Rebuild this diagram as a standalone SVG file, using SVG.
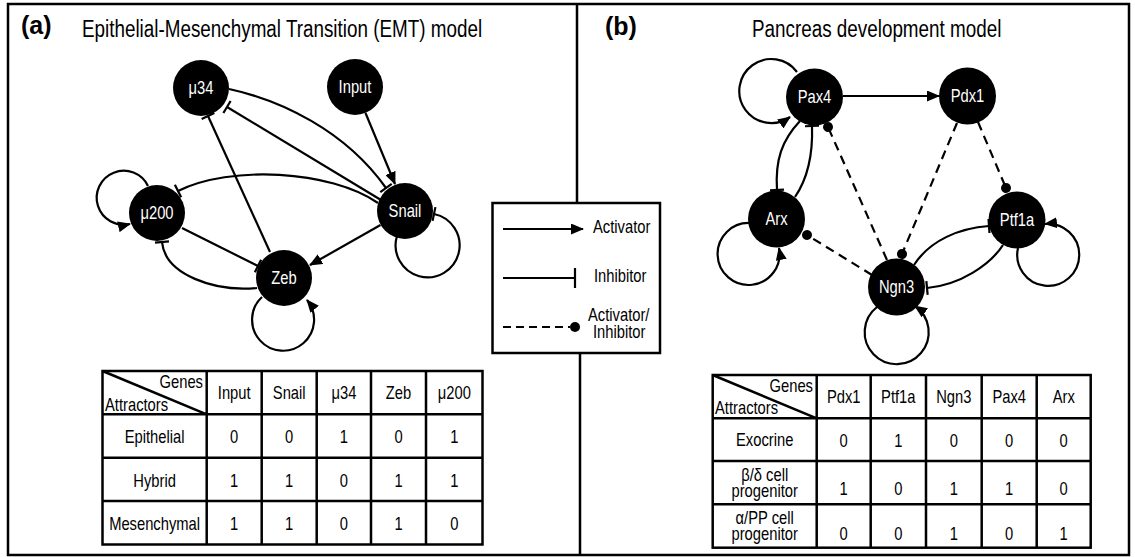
<svg xmlns="http://www.w3.org/2000/svg" width="1135" height="557" viewBox="0 0 1135 557">
<style>
.t{font-family:"Liberation Sans",Arial,sans-serif;fill:#000;font-size:18px}
.n{fill:#fff;text-anchor:middle}
.c{text-anchor:middle}
.r{text-anchor:end}
.h{font-size:23px}
.b{font-family:"Liberation Sans",Arial,sans-serif;font-weight:bold;font-size:25px}
.e{fill:none;stroke:#000;stroke-width:2.2}
.d{fill:none;stroke:#000;stroke-width:2.2;stroke-dasharray:9 6}
.g{fill:none;stroke:#000;stroke-width:2.5}
.act{marker-end:url(#arr)}
.inh{marker-end:url(#bar)}
.dot{marker-end:url(#dotm)}
</style>
<defs>
<marker id="arr" markerUnits="userSpaceOnUse" viewBox="0 0 13 11" refX="12" refY="5.5" markerWidth="13" markerHeight="11" orient="auto"><path d="M0,0 L13,5.5 L0,11 z" fill="#000"/></marker>
<marker id="bar" markerUnits="userSpaceOnUse" viewBox="-2 -8 4 16" refX="0" refY="0" markerWidth="4" markerHeight="16" orient="auto"><path d="M0,-7 V7" stroke="#000" stroke-width="2.2"/></marker>
<marker id="dotm" markerUnits="userSpaceOnUse" viewBox="-6 -6 12 12" refX="0" refY="0" markerWidth="12" markerHeight="12" orient="auto"><circle cx="0" cy="0" r="5" fill="#000"/></marker>
</defs>
<rect x="0" y="0" width="1135" height="557" fill="#fff"/>
<g id="frame">
<rect x="8" y="4" width="1121" height="551" class="g"/>
<path d="M577,4 L577,203 M580,353 L580,555" class="g"/>
</g>
<g id="titles">
<text class="b" x="21" y="34">(a)</text>
<text class="t h" transform="translate(82,37) scale(0.82,1)">Epithelial-Mesenchymal Transition (EMT) model</text>
<text class="b" x="605" y="35">(b)</text>
<text class="t h" transform="translate(752,37) scale(0.82,1)">Pancreas development model</text>
</g>
<g id="connectors">
<path class="e act" d="M365.5,113 L395,184"/>
<path class="e inh" d="M381,200 L227,107"/>
<path class="e inh" d="M229,89 C280,100 345,130 386,188"/>
<path class="e inh" d="M270,252 L208,116"/>
<path class="e inh" d="M378,203 C330,170 230,165 178,191"/>
<path class="e inh" d="M182,228 L258,266"/>
<path class="e inh" d="M257,288 C215,292 165,275 162,242"/>
<path class="e act" d="M380.5,225 L310,265"/>
<path class="e act" d="M148,186 A27,27 0 1 0 130,224"/>
<path class="e act" d="M262,297 A31,31 0 1 0 307,300"/>
<path class="e inh" d="M397,236 A32,32 0 1 0 434,214"/>
<path class="e act" d="M843,96 L939,96"/>
<path class="e act" d="M797,72 A32,32 0 1 0 790,117"/>
<path class="e inh" d="M800,121 C782,140 775,160 777,190"/>
<path class="e inh" d="M795,197 C808,178 813,155 812,126"/>
<path class="d dot" d="M887,260 L828,127"/>
<path class="d dot" d="M957,123 L902,254"/>
<path class="d dot" d="M978,122 L1006,188"/>
<path class="d dot" d="M872,275 L807,235"/>
<path class="e inh" d="M914,265 C930,240 960,228 989,226"/>
<path class="e inh" d="M1003,245 C990,265 960,285 927,288"/>
<path class="e act" d="M750,223 A31,31 0 1 0 779,248"/>
<path class="e act" d="M1018,248 A31,31 0 1 0 1045,224"/>
<path class="e act" d="M877,307 A32,32 0 1 0 915,306"/>
</g>
<g id="n-mu34"><circle cx="201" cy="88" r="28"/><text class="t n" transform="translate(201,94) scale(0.82,1)">μ34</text></g>
<g id="n-input"><circle cx="355" cy="87" r="28"/><text class="t n" transform="translate(355,93) scale(0.82,1)">Input</text></g>
<g id="n-snail"><circle cx="405" cy="211" r="28"/><text class="t n" transform="translate(405,217) scale(0.82,1)">Snail</text></g>
<g id="n-mu200"><circle cx="157" cy="213" r="28"/><text class="t n" transform="translate(157,219) scale(0.82,1)">μ200</text></g>
<g id="n-zeb"><circle cx="284" cy="278" r="28"/><text class="t n" transform="translate(284,284) scale(0.82,1)">Zeb</text></g>
<g id="n-pax4"><circle cx="814.5" cy="97" r="28.5"/><text class="t n" transform="translate(814.5,103) scale(0.82,1)">Pax4</text></g>
<g id="n-pdx1"><circle cx="967.5" cy="96" r="28.5"/><text class="t n" transform="translate(967.5,102) scale(0.82,1)">Pdx1</text></g>
<g id="n-arx"><circle cx="776.5" cy="219" r="28.5"/><text class="t n" transform="translate(776.5,225) scale(0.82,1)">Arx</text></g>
<g id="n-ptf1a"><circle cx="1017" cy="220" r="28.5"/><text class="t n" transform="translate(1017,226) scale(0.82,1)">Ptf1a</text></g>
<g id="n-ngn3"><circle cx="896.5" cy="287" r="28.5"/><text class="t n" transform="translate(896.5,293) scale(0.82,1)">Ngn3</text></g>
<g id="legend">
<rect x="492.5" y="203" width="167.5" height="150" class="g"/>
<path class="e act" d="M503,229 L583,229"/>
<text class="t" transform="translate(593,233) scale(0.82,1)">Activator</text>
<path class="e" d="M503,278 L575,278 M575,268 V288"/>
<text class="t" transform="translate(594,282) scale(0.82,1)">Inhibitor</text>
<path class="e" d="M503,327 L570,327" stroke-dasharray="8 5"/>
<circle cx="575" cy="327" r="5"/>
<text class="t" transform="translate(588,321) scale(0.82,1)">Activator/</text>
<text class="t" transform="translate(593,338) scale(0.82,1)">Inhibitor</text>
</g>
<g id="table-emt">
<rect x="102.5" y="371" width="380" height="173.5" class="g"/>
<path class="g" d="M102.5,414.3 H482.5 M102.5,457.7 H482.5 M102.5,501 H482.5 M206.7,371 V544.5 M261.7,371 V544.5 M316.7,371 V544.5 M371,371 V544.5 M426,371 V544.5 M102.5,371 L206.7,414.3"/>
<text class="t r" transform="translate(203,388) scale(0.82,1)">Genes</text>
<text class="t" transform="translate(105,411) scale(0.82,1)">Attractors</text>
<text class="t c" transform="translate(234.2,399) scale(0.82,1)">Input</text>
<text class="t c" transform="translate(289.2,399) scale(0.82,1)">Snail</text>
<text class="t c" transform="translate(343.9,399) scale(0.82,1)">μ34</text>
<text class="t c" transform="translate(398.5,399) scale(0.82,1)">Zeb</text>
<text class="t c" transform="translate(454.3,399) scale(0.82,1)">μ200</text>
<text class="t c" transform="translate(154.6,443) scale(0.82,1)">Epithelial</text>
<text class="t c" transform="translate(234.2,443) scale(0.82,1)">0</text>
<text class="t c" transform="translate(289.2,443) scale(0.82,1)">0</text>
<text class="t c" transform="translate(343.9,443) scale(0.82,1)">1</text>
<text class="t c" transform="translate(398.5,443) scale(0.82,1)">0</text>
<text class="t c" transform="translate(454.3,443) scale(0.82,1)">1</text>
<text class="t c" transform="translate(154.6,486.5) scale(0.82,1)">Hybrid</text>
<text class="t c" transform="translate(234.2,486.5) scale(0.82,1)">1</text>
<text class="t c" transform="translate(289.2,486.5) scale(0.82,1)">1</text>
<text class="t c" transform="translate(343.9,486.5) scale(0.82,1)">0</text>
<text class="t c" transform="translate(398.5,486.5) scale(0.82,1)">1</text>
<text class="t c" transform="translate(454.3,486.5) scale(0.82,1)">1</text>
<text class="t c" transform="translate(154.6,530) scale(0.82,1)">Mesenchymal</text>
<text class="t c" transform="translate(234.2,530) scale(0.82,1)">1</text>
<text class="t c" transform="translate(289.2,530) scale(0.82,1)">1</text>
<text class="t c" transform="translate(343.9,530) scale(0.82,1)">0</text>
<text class="t c" transform="translate(398.5,530) scale(0.82,1)">1</text>
<text class="t c" transform="translate(454.3,530) scale(0.82,1)">0</text>
</g>
<g id="table-pancreas">
<rect x="712.7" y="375" width="378" height="172.7" class="g"/>
<path class="g" d="M712.7,418.3 H1090.7 M712.7,461 H1090.7 M712.7,504.3 H1090.7 M816.7,375 V547.7 M870.7,375 V547.7 M926,375 V547.7 M981.7,375 V547.7 M1036.7,375 V547.7 M712.7,375 L816.7,418.3"/>
<text class="t r" transform="translate(813,392) scale(0.82,1)">Genes</text>
<text class="t" transform="translate(715,414) scale(0.82,1)">Attractors</text>
<text class="t c" transform="translate(843.7,403) scale(0.82,1)">Pdx1</text>
<text class="t c" transform="translate(898.3,403) scale(0.82,1)">Ptf1a</text>
<text class="t c" transform="translate(953.8,403) scale(0.82,1)">Ngn3</text>
<text class="t c" transform="translate(1009.2,403) scale(0.82,1)">Pax4</text>
<text class="t c" transform="translate(1063.7,403) scale(0.82,1)">Arx</text>
<text class="t c" transform="translate(764.7,446) scale(0.82,1)">Exocrine</text>
<text class="t c" transform="translate(843.7,447) scale(0.82,1)">0</text>
<text class="t c" transform="translate(898.3,447) scale(0.82,1)">1</text>
<text class="t c" transform="translate(953.8,447) scale(0.82,1)">0</text>
<text class="t c" transform="translate(1009.2,447) scale(0.82,1)">0</text>
<text class="t c" transform="translate(1063.7,447) scale(0.82,1)">0</text>
<text class="t c" transform="translate(764.7,481) scale(0.82,1)">β/δ cell</text>
<text class="t c" transform="translate(764.7,497) scale(0.82,1)">progenitor</text>
<text class="t c" transform="translate(843.7,495) scale(0.82,1)">1</text>
<text class="t c" transform="translate(898.3,495) scale(0.82,1)">0</text>
<text class="t c" transform="translate(953.8,495) scale(0.82,1)">1</text>
<text class="t c" transform="translate(1009.2,495) scale(0.82,1)">1</text>
<text class="t c" transform="translate(1063.7,495) scale(0.82,1)">0</text>
<text class="t c" transform="translate(764.7,524) scale(0.82,1)">α/PP cell</text>
<text class="t c" transform="translate(764.7,540) scale(0.82,1)">progenitor</text>
<text class="t c" transform="translate(843.7,540) scale(0.82,1)">0</text>
<text class="t c" transform="translate(898.3,540) scale(0.82,1)">0</text>
<text class="t c" transform="translate(953.8,540) scale(0.82,1)">1</text>
<text class="t c" transform="translate(1009.2,540) scale(0.82,1)">0</text>
<text class="t c" transform="translate(1063.7,540) scale(0.82,1)">1</text>
</g>
</svg>
